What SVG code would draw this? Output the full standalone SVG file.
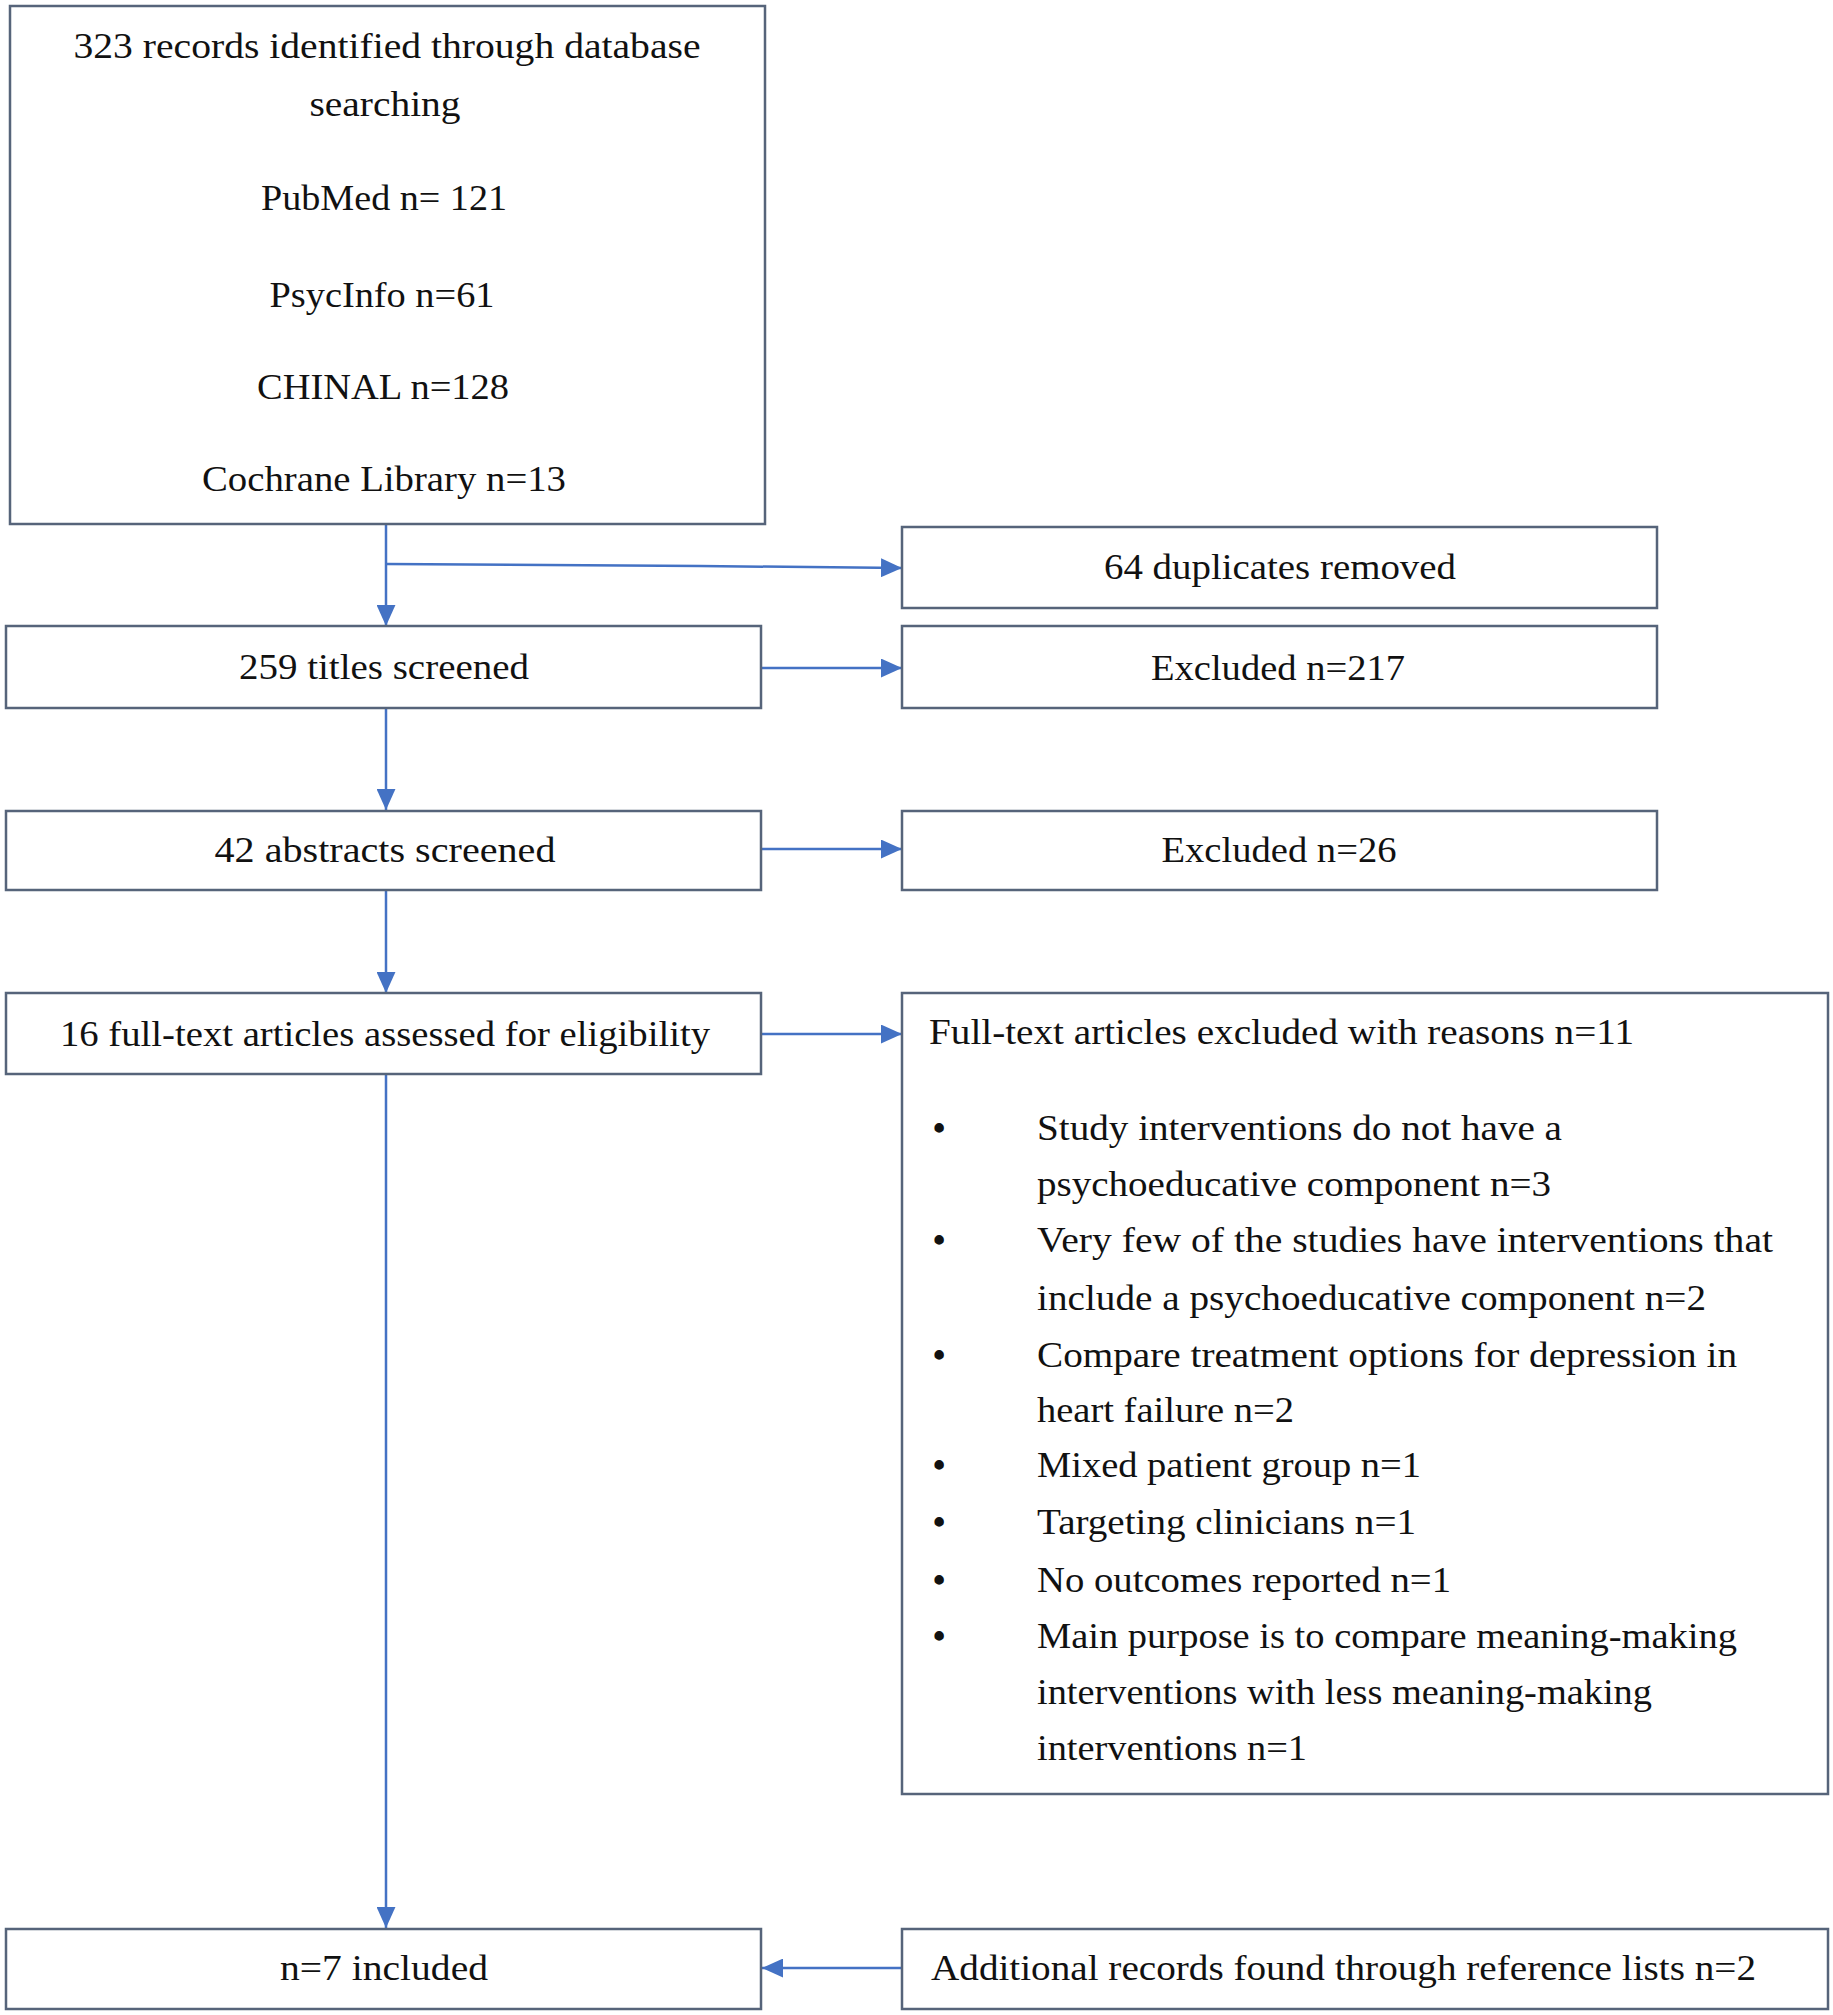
<svg xmlns="http://www.w3.org/2000/svg" width="1833" height="2015" viewBox="0 0 1833 2015">
<style>
.box{fill:#fff;stroke:#56647a;stroke-width:2.5}
.t{font-family:"Liberation Serif","Times New Roman",serif;font-size:35px;fill:#111}
.c{text-anchor:middle}
.ln{stroke:#4472c4;stroke-width:2.5;fill:none}
</style>
<defs>
<marker id="ah" viewBox="0 0 20 18" refX="20" refY="9" markerWidth="21" markerHeight="19" markerUnits="userSpaceOnUse" orient="auto">
<path d="M0,0 L20,9 L0,18 z" fill="#4472c4"/>
</marker>
</defs>
<rect width="1833" height="2015" fill="#fff"/>
<g id="connectors">
<line class="ln" x1="386" y1="524" x2="386" y2="626" marker-end="url(#ah)"/>
<polyline class="ln" points="386,564 700,566 902,568" marker-end="url(#ah)"/>
<line class="ln" x1="761" y1="668" x2="902" y2="668" marker-end="url(#ah)"/>
<line class="ln" x1="386" y1="708" x2="386" y2="810" marker-end="url(#ah)"/>
<line class="ln" x1="761" y1="849" x2="902" y2="849" marker-end="url(#ah)"/>
<line class="ln" x1="386" y1="890" x2="386" y2="993" marker-end="url(#ah)"/>
<line class="ln" x1="761" y1="1034" x2="902" y2="1034" marker-end="url(#ah)"/>
<line class="ln" x1="386" y1="1074" x2="386" y2="1928" marker-end="url(#ah)"/>
<line class="ln" x1="903" y1="1968" x2="762" y2="1968" marker-end="url(#ah)"/>
</g>
<g id="n1">
<rect class="box" x="10" y="6" width="755" height="518"/>
<text class="t c" x="387" y="58" textLength="627" lengthAdjust="spacingAndGlyphs">323  records identified  through database</text>
<text class="t c" x="385" y="116" textLength="151" lengthAdjust="spacingAndGlyphs">searching</text>
<text class="t c" x="384" y="210" textLength="246" lengthAdjust="spacingAndGlyphs">PubMed n= 121</text>
<text class="t c" x="382" y="307" textLength="225" lengthAdjust="spacingAndGlyphs">PsycInfo n=61</text>
<text class="t c" x="383" y="399" textLength="252" lengthAdjust="spacingAndGlyphs">CHINAL  n=128</text>
<text class="t c" x="384" y="491" textLength="364" lengthAdjust="spacingAndGlyphs">Cochrane Library  n=13</text>
</g>
<g id="n2">
<rect class="box" x="902" y="527" width="755" height="81"/>
<text class="t c" x="1280" y="579" textLength="352" lengthAdjust="spacingAndGlyphs">64  duplicates removed</text>
</g>
<g id="n3">
<rect class="box" x="6" y="626" width="755" height="82"/>
<text class="t c" x="384" y="679" textLength="290" lengthAdjust="spacingAndGlyphs">259  titles screened</text>
</g>
<g id="n4">
<rect class="box" x="902" y="626" width="755" height="82"/>
<text class="t c" x="1278" y="680" textLength="254" lengthAdjust="spacingAndGlyphs">Excluded  n=217</text>
</g>
<g id="n5">
<rect class="box" x="6" y="811" width="755" height="79"/>
<text class="t c" x="385" y="862" textLength="341" lengthAdjust="spacingAndGlyphs">42  abstracts screened</text>
</g>
<g id="n6">
<rect class="box" x="902" y="811" width="755" height="79"/>
<text class="t c" x="1279" y="862" textLength="235" lengthAdjust="spacingAndGlyphs">Excluded  n=26</text>
</g>
<g id="n7">
<rect class="box" x="6" y="993" width="755" height="81"/>
<text class="t c" x="385" y="1046" textLength="650" lengthAdjust="spacingAndGlyphs">16  full-text  articles  assessed for eligibility</text>
</g>
<g id="n8">
<rect class="box" x="902" y="993" width="926" height="801"/>
<text class="t" x="929" y="1044" textLength="705" lengthAdjust="spacingAndGlyphs">Full-text  articles  excluded  with reasons n=11</text>
<g class="t" font-weight="bold">
<text x="933" y="1140">•</text>
<text x="933" y="1252">•</text>
<text x="933" y="1367">•</text>
<text x="933" y="1477">•</text>
<text x="933" y="1534">•</text>
<text x="933" y="1592">•</text>
<text x="933" y="1648">•</text>
</g>
<text class="t" x="1037" y="1140" textLength="525" lengthAdjust="spacingAndGlyphs">Study interventions do not have a</text>
<text class="t" x="1037" y="1196" textLength="514" lengthAdjust="spacingAndGlyphs">psychoeducative component n=3</text>
<text class="t" x="1037" y="1252" textLength="736" lengthAdjust="spacingAndGlyphs">Very  few  of the studies have interventions that</text>
<text class="t" x="1037" y="1310" textLength="669" lengthAdjust="spacingAndGlyphs">include  a psychoeducative component n=2</text>
<text class="t" x="1037" y="1367" textLength="700" lengthAdjust="spacingAndGlyphs">Compare  treatment  options for  depression in</text>
<text class="t" x="1037" y="1422" textLength="257" lengthAdjust="spacingAndGlyphs">heart failure  n=2</text>
<text class="t" x="1037" y="1477" textLength="384" lengthAdjust="spacingAndGlyphs">Mixed  patient  group n=1</text>
<text class="t" x="1037" y="1534" textLength="379" lengthAdjust="spacingAndGlyphs">Targeting clinicians  n=1</text>
<text class="t" x="1037" y="1592" textLength="414" lengthAdjust="spacingAndGlyphs">No  outcomes reported n=1</text>
<text class="t" x="1037" y="1648" textLength="700" lengthAdjust="spacingAndGlyphs">Main purpose is to compare meaning-making</text>
<text class="t" x="1037" y="1704" textLength="615" lengthAdjust="spacingAndGlyphs">interventions with less meaning-making</text>
<text class="t" x="1037" y="1760" textLength="270" lengthAdjust="spacingAndGlyphs">interventions n=1</text>
</g>
<g id="n9">
<rect class="box" x="6" y="1929" width="755" height="80"/>
<text class="t c" x="384" y="1980" textLength="208" lengthAdjust="spacingAndGlyphs">n=7 included</text>
</g>
<g id="n10">
<rect class="box" x="902" y="1929" width="926" height="80"/>
<text class="t" x="931" y="1980" textLength="825" lengthAdjust="spacingAndGlyphs">Additional records found through reference lists n=2</text>
</g>
</svg>
